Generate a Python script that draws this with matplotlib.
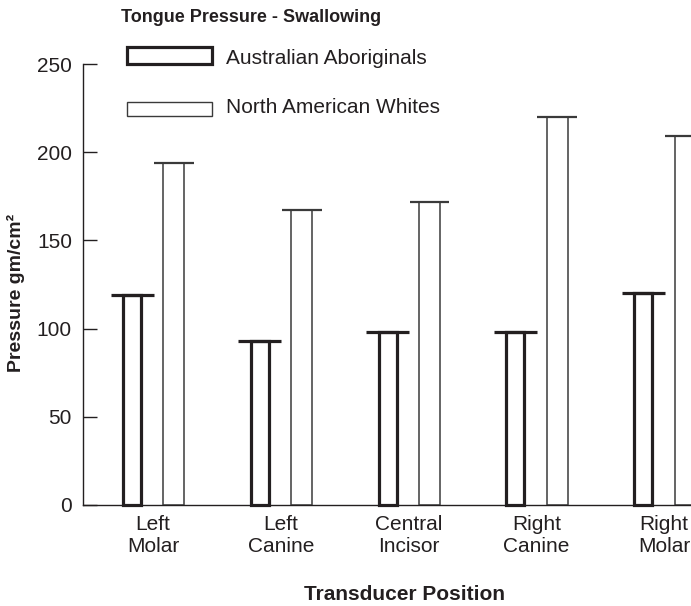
import matplotlib.pyplot as plt
from matplotlib.patches import Rectangle

# Tongue pressure during swallowing, by transducer position
positions = ["Left\nMolar", "Left\nCanine", "Central\nIncisor", "Right\nCanine", "Right\nMolar"]
aboriginals = [119, 93, 98, 98, 120]
whites = [194, 167, 172, 220, 209]
yticks = [0, 50, 100, 150, 200, 250]

plt.rcParams['font.family'] = ['Liberation Sans', 'DejaVu Sans']
INK = '#231f20'

fig = plt.figure(figsize=(6.91, 6.06), dpi=100)
ax = fig.add_axes([83 / 691, 101 / 606, 608 / 691, 441 / 606])

x = list(range(len(positions)))
off = 0.164

# Aboriginal bars (thick outline) with a wider cap on top
xa = [i - off for i in x]
ax.bar(xa, aboriginals, width=0.141, fill=False, edgecolor=INK,
       linewidth=2.3, clip_on=False, zorder=3)
ax.hlines(aboriginals, [v - 0.168 for v in xa], [v + 0.168 for v in xa],
          colors=INK, linewidth=2.3, zorder=3)

# North American White bars (thin outline)
xw = [i + off for i in x]
ax.bar(xw, whites, width=0.164, fill=False, edgecolor='#3a3a3a',
       linewidth=1.1, zorder=3)
ax.hlines(whites, [v - 0.156 for v in xw], [v + 0.156 for v in xw],
          colors='#3a3a3a', linewidth=1.6, zorder=3)

ax.set_xlim(-0.548, 4.211)
ax.set_ylim(0, 250)
ax.set_yticks(yticks)
ax.set_xticks(x)
ax.set_xticklabels(positions, fontsize=15, color=INK, linespacing=1.25)
ax.tick_params(axis='x', length=0, pad=7)
ax.tick_params(axis='y', direction='in', length=10, width=1, pad=8,
               labelsize=15, labelcolor=INK, color=INK)

for s in ['top', 'right']:
    ax.spines[s].set_visible(False)
for s in ['left', 'bottom']:
    ax.spines[s].set_color(INK)
    ax.spines[s].set_linewidth(1)

# Title, axis titles
fig.text(121 / 691, 1 - 17 / 606, "Tongue Pressure - Swallowing", fontsize=13,
         fontweight='bold', color=INK, ha='left', va='center')
fig.text(16 / 691, 1 - 293 / 606, "Pressure gm/cm²", fontsize=14, fontweight='bold',
         color=INK, rotation=90, ha='center', va='center')
fig.text(405 / 691, 1 - 595 / 606, "Transducer Position", fontsize=15,
         fontweight='bold', color=INK, ha='center', va='center')

# Hand-made legend
fig.patches.append(Rectangle((127 / 691, 1 - 64 / 606), 85 / 691, 17 / 606,
                             transform=fig.transFigure, fill=False,
                             edgecolor=INK, linewidth=2.3))
fig.patches.append(Rectangle((127 / 691, 1 - 116 / 606), 85 / 691, 14 / 606,
                             transform=fig.transFigure, fill=False,
                             edgecolor='#3a3a3a', linewidth=1.0))
fig.text(226 / 691, 1 - 58 / 606, "Australian Aboriginals", fontsize=15,
         color=INK, ha='left', va='center')
fig.text(226 / 691, 1 - 108 / 606, "North American Whites", fontsize=15,
         color=INK, ha='left', va='center')

fig.savefig('out.png', dpi=100)
